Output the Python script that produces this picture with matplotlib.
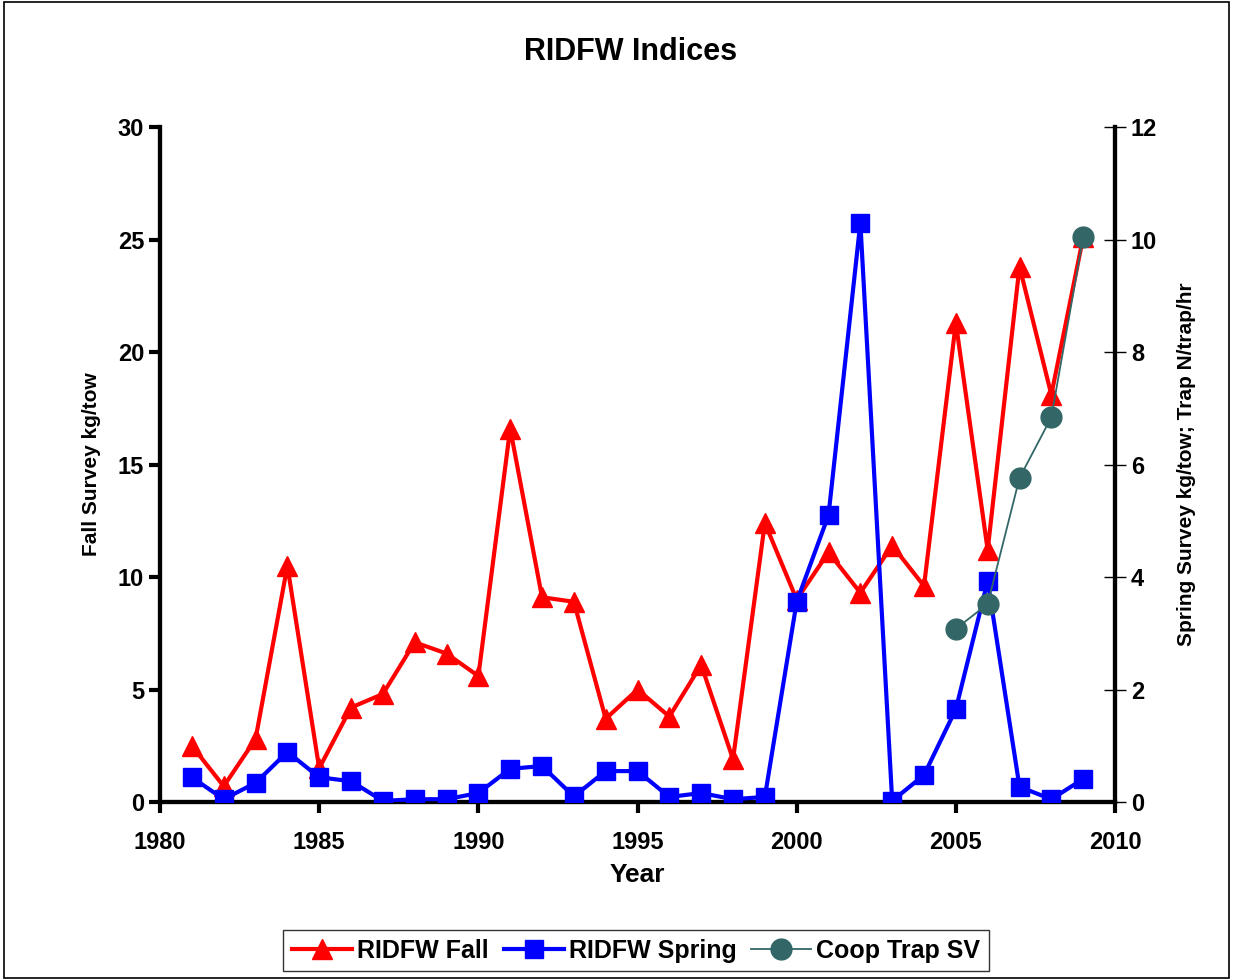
"""RIDFW indices: fall survey (left axis) vs spring survey and coop trap (right axis)."""

import matplotlib.pyplot as plt
from matplotlib.patches import Rectangle

plt.rcParams["font.family"] = ["Liberation Sans", "DejaVu Sans"]

# --- data -------------------------------------------------------------------

YEARS = list(range(1981, 2010))

FALL = [2.5, 0.7, 2.8, 10.5, 1.5, 4.2, 4.8, 7.1, 6.6, 5.6,
        16.6, 9.1, 8.9, 3.7, 5.0, 3.8, 6.1, 1.9, 12.4, 9.0,
        11.1, 9.3, 11.4, 9.6, 21.3, 11.2, 23.8, 18.1, 25.1]

SPRING = [0.44, 0.05, 0.34, 0.89, 0.44, 0.37, 0.02, 0.05, 0.05, 0.16,
          0.59, 0.64, 0.10, 0.55, 0.55, 0.09, 0.16, 0.05, 0.09, 3.56,
          5.10, 10.3, 0.02, 0.48, 1.65, 3.93, 0.27, 0.05, 0.41]

TRAP_YEARS = [2005, 2006, 2007, 2008, 2009]
TRAP = [3.08, 3.52, 5.76, 6.84, 10.04]

# --- plot -------------------------------------------------------------------

fig = plt.figure(figsize=(12.33, 9.8), dpi=100)
ax = fig.add_axes([0.1298, 0.1816, 0.7745, 0.6888])
ax2 = ax.twinx()

l1, = ax.plot(YEARS, FALL, color="#ff0000", lw=3, marker="^", ms=15,
              label="RIDFW Fall", zorder=3)
l2, = ax2.plot(YEARS, SPRING, color="#0000ff", lw=3, marker="s", ms=13,
               label="RIDFW Spring", zorder=3)
l3, = ax2.plot(TRAP_YEARS, TRAP, color="#336666", lw=1.3, marker="o", ms=15,
               label="Coop Trap SV", zorder=4)

ax.set_xlim(1980, 2010)
ax.set_ylim(0, 30)
ax2.set_ylim(0, 12)
ax.set_xticks(range(1980, 2011, 5))
ax.set_yticks(range(0, 31, 5))
ax2.set_yticks(range(0, 13, 2))

for a in (ax, ax2):
    a.spines["top"].set_visible(False)
    for s in ("left", "right", "bottom"):
        a.spines[s].set_linewidth(3)
ax.tick_params(axis="both", direction="out", width=3, length=8,
               labelsize=17)
ax.tick_params(axis="x", pad=13)
ax2.tick_params(axis="y", direction="inout", width=1, length=16,
                labelsize=17)
for lab in ax.get_xticklabels() + ax.get_yticklabels() + ax2.get_yticklabels():
    lab.set_fontweight("bold")

ax.set_xlabel("Year", fontsize=19, fontweight="bold", labelpad=6)
ax.set_ylabel("Fall Survey kg/tow", fontsize=15, fontweight="bold", labelpad=12)
ax2.set_ylabel("Spring Survey kg/tow; Trap N/trap/hr", fontsize=15,
               fontweight="bold", labelpad=14)

fig.text(0.511, 0.947, "RIDFW Indices", ha="center", va="center",
         fontsize=22, fontweight="bold")

leg = fig.legend(handles=[l1, l2, l3], loc="center", ncol=3,
                 bbox_to_anchor=(0.516, 0.030), frameon=True, fancybox=False,
                 edgecolor="black", fontsize=18, handlelength=2.4,
                 handletextpad=0.2, columnspacing=0.6, borderpad=0.35)
leg.get_frame().set_linewidth(1)
for t in leg.get_texts():
    t.set_fontweight("bold")

fig.patches.append(Rectangle((0.003, 0.002), 0.994, 0.996, transform=fig.transFigure,
                             fill=False, edgecolor="black", lw=1.2))

fig.savefig("out.png", dpi=100)
